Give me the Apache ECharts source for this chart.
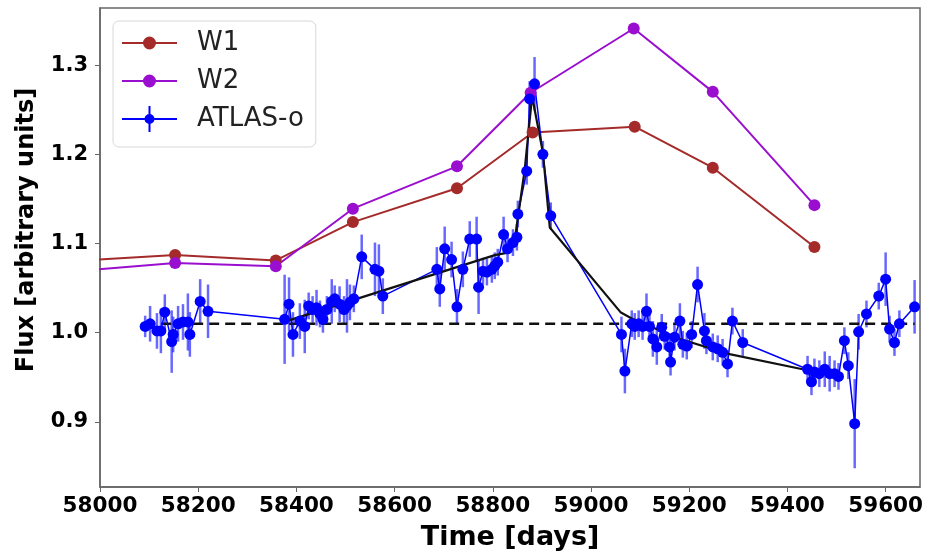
<!DOCTYPE html>
<html><head><meta charset="utf-8">
<script src="https://cdn.jsdelivr.net/npm/echarts@6/dist/echarts.min.js"></script>
<style>html,body{margin:0;padding:0;background:#fff}#c{width:928px;height:556px}</style>
</head><body><div id="c"></div>
<script>
// ---- data ----
const xTicks = [58000, 58200, 58400, 58600, 58800, 59000, 59200, 59400, 59600];
const yTicks = [0.9, 1.0, 1.1, 1.2, 1.3];

const w1Days = [57970, 58153, 58358, 58515, 58727, 58881, 59089, 59248, 59455];
const w1Flux = [1.081, 1.087, 1.081, 1.124, 1.162, 1.2245, 1.231, 1.185, 1.096];

const w2Days = [57970, 58153, 58358, 58515, 58727, 58877, 59087, 59248, 59455];
const w2Flux = [1.0698, 1.078, 1.0745, 1.139, 1.1865, 1.269, 1.341, 1.270, 1.143];

const atlasDays = [
  58092, 58102, 58116, 58124, 58132, 58146, 58149, 58159, 58169, 58179, 58183, 58204, 58220,
  58376, 58385, 58393, 58407, 58417, 58425, 58433, 58441, 58448, 58454, 58462, 58472, 58478,
  58488, 58497, 58503, 58509, 58517, 58533, 58560, 58568, 58576,
  58686, 58692, 58702, 58716, 58727, 58739, 58753, 58767, 58771, 58780, 58788, 58798, 58804,
  58810, 58822, 58830, 58841, 58849, 58851, 58869, 58875, 58885, 58902, 58918,
  59062, 59069, 59083, 59089, 59097, 59105, 59113, 59119, 59126, 59134, 59144, 59150, 59160,
  59162, 59170, 59181, 59187, 59195, 59205, 59217, 59231, 59235, 59248, 59258, 59268, 59278,
  59288, 59309,
  59441, 59449, 59455, 59465, 59476, 59486, 59496, 59504, 59516, 59524, 59537, 59545, 59561,
  59586, 59600, 59608, 59618, 59628, 59659
];
const atlasFlux = [
  1.007, 1.010, 1.002, 1.002, 1.023, 0.990, 0.998, 1.010, 1.012, 1.012, 0.998, 1.035, 1.024,
  1.015, 1.032, 0.998, 1.013, 1.007, 1.030, 1.026, 1.028, 1.021, 1.015, 1.026, 1.035, 1.038,
  1.032, 1.026, 1.030, 1.034, 1.038, 1.085, 1.071, 1.069, 1.041,
  1.071, 1.049, 1.094, 1.082, 1.029, 1.071, 1.105, 1.105, 1.051, 1.069, 1.068, 1.071, 1.075,
  1.079, 1.110, 1.094, 1.101, 1.107, 1.133, 1.181, 1.262, 1.279, 1.200, 1.131,
  0.998, 0.957, 1.010, 1.007, 1.010, 1.007, 1.024, 1.007, 0.993, 0.984, 1.006, 0.996, 0.984,
  0.967, 0.995, 1.013, 0.987, 0.985, 0.998, 1.054, 1.002, 0.991, 0.984, 0.982, 0.978, 0.965,
  1.013, 0.989,
  0.959, 0.945, 0.956, 0.954, 0.959, 0.954, 0.954, 0.951, 0.991, 0.963, 0.898, 1.001, 1.021,
  1.041, 1.060, 1.004, 0.989, 1.010, 1.029
];
const atlasErr = [
  0.012, 0.020, 0.020, 0.025, 0.020, 0.035, 0.020, 0.020, 0.020, 0.032, 0.025, 0.025, 0.030,
  0.050, 0.030, 0.025, 0.020, 0.030, 0.015, 0.015, 0.020, 0.015, 0.015, 0.015, 0.025, 0.015,
  0.020, 0.015, 0.030, 0.020, 0.015, 0.025, 0.030, 0.030, 0.020,
  0.025, 0.020, 0.025, 0.020, 0.020, 0.020, 0.020, 0.025, 0.030, 0.015, 0.015, 0.015, 0.015,
  0.015, 0.020, 0.015, 0.015, 0.015, 0.015, 0.015, 0.020, 0.030, 0.015, 0.015,
  0.020, 0.025, 0.015, 0.015, 0.015, 0.015, 0.020, 0.015, 0.020, 0.020, 0.015, 0.015, 0.015,
  0.015, 0.015, 0.020, 0.015, 0.015, 0.015, 0.020, 0.020, 0.015, 0.015, 0.015, 0.015, 0.015,
  0.015, 0.015,
  0.015, 0.015, 0.015, 0.015, 0.020, 0.020, 0.015, 0.015, 0.015, 0.015, 0.050, 0.020, 0.015,
  0.015, 0.030, 0.015, 0.015, 0.015, 0.030
];

const modelDays = [58380, 58804, 58834, 58845, 58865, 58880, 58902, 58916, 59060, 59083, 59181, 59282, 59431];
const modelFlux = [1.013, 1.087, 1.090, 1.105, 1.183, 1.265, 1.202, 1.118, 1.023, 1.016, 0.993, 0.976, 0.959];

const baseDays = [58092, 59659];
const baseFlux = [1.01, 1.01];

// ---- build ----
const zip = (a, b) => a.map((v, i) => [v, b[i]]);
const FONT = '"DejaVu Sans", sans-serif';
const iconW = 'path://M0 5.5 H55 V7.5 H0 Z M21 6.5 A6.5 6.5 0 1 1 34 6.5 A6.5 6.5 0 1 1 21 6.5 Z';
const iconA = 'path://M0 12 H55 V14 H0 Z M26.5 0 H28.5 V26 H26.5 Z M22.5 13 A5 5 0 1 1 32.5 13 A5 5 0 1 1 22.5 13 Z';

const chart = echarts.init(document.getElementById('c'));
chart.setOption({
  animation: false,
  backgroundColor: '#fff',
  grid: { left: 100, right: 8, top: 8, bottom: 68, show: true, borderColor: '#666', borderWidth: 1.5, backgroundColor: 'transparent' },
  legend: {
    orient: 'vertical', left: 113, top: 21,
    padding: [9, 12, 15, 9], itemGap: 12, itemWidth: 55, itemHeight: 26,
    backgroundColor: 'rgba(255,255,255,0.85)', borderColor: '#d8d8d8', borderWidth: 1, borderRadius: 6,
    textStyle: { fontFamily: FONT, fontSize: 26, color: '#222', lineHeight: 26, padding: [0, 0, 0, 15] },
    data: [{ name: 'W1', icon: iconW }, { name: 'W2', icon: iconW }, { name: 'ATLAS-o', icon: iconA }]
  },
  xAxis: {
    type: 'value', min: 58000, max: 59670,
    name: 'Time [days]', nameLocation: 'middle', nameGap: 37,
    nameTextStyle: { fontFamily: FONT, fontSize: 27, fontWeight: 'bold', color: '#000' },
    axisLine: { show: true, lineStyle: { color: '#666', width: 1.5 } },
    axisTick: { show: true, length: 5, lineStyle: { color: '#666' }, customValues: xTicks },
    axisLabel: { fontFamily: FONT, fontSize: 21.5, fontWeight: 'bold', color: '#000', margin: 8, customValues: xTicks, formatter: v => String(v) },
    splitLine: { show: false }
  },
  yAxis: {
    type: 'value', min: 0.827, max: 1.364,
    axisLine: { show: true, lineStyle: { color: '#666', width: 1.5 } },
    axisTick: { show: true, length: 5, lineStyle: { color: '#666' }, customValues: yTicks },
    axisLabel: { fontFamily: FONT, fontSize: 21, fontWeight: 'bold', color: '#000', margin: 12, customValues: yTicks, formatter: v => v.toFixed(1) },
    splitLine: { show: false }
  },
  graphic: [{
    type: 'text', x: 27, y: 230, rotation: Math.PI / 2,
    style: { text: 'Flux [arbitrary units]', font: 'bold 24px "DejaVu Sans"', align: 'center', verticalAlign: 'middle', fill: '#000' }
  }],
  series: [
    { name: 'W1', type: 'line', data: zip(w1Days, w1Flux), clip: true, symbol: 'circle', symbolSize: 12,
      itemStyle: { color: '#a52a2a' }, lineStyle: { color: '#a52a2a', width: 2 } },
    { name: 'W2', type: 'line', data: zip(w2Days, w2Flux), clip: true, symbol: 'circle', symbolSize: 12,
      itemStyle: { color: '#9a0fcf' }, lineStyle: { color: '#9a0fcf', width: 2 } },
    { name: 'baseline', type: 'line', data: zip(baseDays, baseFlux), symbol: 'none', silent: true,
      lineStyle: { color: '#111', width: 2.5, type: [10, 6] } },
    { name: 'ATLAS-o errors', type: 'custom', clip: true,
      data: atlasDays.map((d, i) => [d, atlasFlux[i], atlasErr[i]]),
      encode: { x: 0, y: 1 },
      renderItem: (params, api) => {
        const x = api.value(0), y = api.value(1), e = api.value(2);
        const p1 = api.coord([x, y - e]), p2 = api.coord([x, y + e]);
        return { type: 'line', shape: { x1: p1[0], y1: p1[1], x2: p2[0], y2: p2[1] },
                 style: { stroke: 'rgba(40,40,255,0.7)', lineWidth: 2.5 } };
      } },
    { name: 'ATLAS-o', type: 'line', data: zip(atlasDays, atlasFlux), clip: true, symbol: 'circle', symbolSize: 11,
      itemStyle: { color: '#0000ff' }, lineStyle: { color: '#0000ff', width: 1.5 } },
    { name: 'model', type: 'line', data: zip(modelDays, modelFlux), symbol: 'none',
      lineStyle: { color: '#111', width: 2.2 } }
  ]
});
</script>
</body></html>
